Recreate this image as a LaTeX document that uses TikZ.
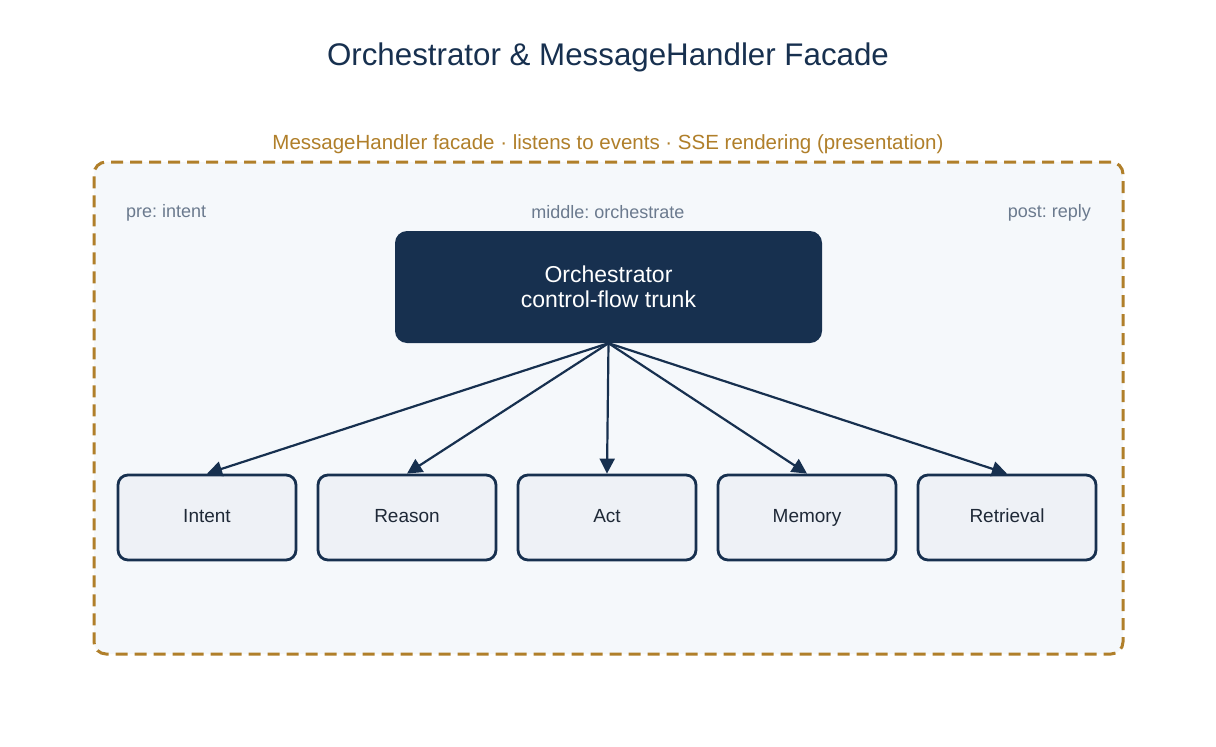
\documentclass[tikz,border=0pt]{standalone}
\usepackage{fontspec}
\setmainfont{Liberation Sans}
\usetikzlibrary{arrows.meta}
\definecolor{navy}{HTML}{17304F}
\definecolor{gold}{HTML}{B07F2A}
\definecolor{paneBg}{HTML}{F5F8FB}
\definecolor{boxBg}{HTML}{EEF1F6}
\definecolor{noteGray}{HTML}{6B7A8E}
\definecolor{inkDark}{HTML}{1F2937}
\frenchspacing
\begin{document}
\begin{tikzpicture}[x=1pt,y=-1pt,
    stage/.style={shape=rectangle,rounded corners=10pt,draw=navy,line width=2.8pt,fill=boxBg,
        minimum width=178pt,minimum height=85pt,inner sep=0pt,text=inkDark,
        text height=0.93em,text depth=0pt,font=\fontsize{19}{22}\selectfont},
    note/.style={text=noteGray,font=\fontsize{18}{21}\selectfont,inner sep=0pt},
    flow/.style={draw=navy,line width=2.2pt,-{Triangle[length=15pt,width=15pt]}}]
                \useasboundingbox[fill=white] (0,0) rectangle (1216,747);

                \node[text=navy,font=\fontsize{31.3}{36}\selectfont] (title) at (608,57.5) {Orchestrator \& MessageHandler Facade};

                \node[shape=rectangle,rounded corners=12pt,draw=gold,line width=3pt,dash pattern=on 12pt off 7pt,
                    fill=paneBg,minimum width=1029pt,minimum height=492pt] (facade) at (608.5,408) {};
                \node[text=gold,font=\fontsize{20.5}{24}\selectfont] (facadelbl) at (608,144) {MessageHandler facade · listens to events · SSE rendering (presentation)};

                \node[note,anchor=west] (pre) at (126,212.5) {pre: intent};
                \node[note] (mid) at (608,212.5) {middle: orchestrate};
                \node[note,anchor=east] (post) at (1091,212.5) {post: reply};

                \node[shape=rectangle,rounded corners=12pt,fill=navy,minimum width=427pt,minimum height=112pt,
                    text=white,align=center,font=\fontsize{23}{25}\selectfont] (orch) at (608.5,287) {Orchestrator\\control-flow trunk};

                \node[stage] (intent) at (207,517.5) {Intent};
                \node[stage] (reason) at (407,517.5) {Reason};
                \node[stage] (act) at (607,517.5) {Act};
                \node[stage] (memory) at (807,517.5) {Memory};
                \node[stage] (retrieval) at (1007,517.5) {Retrieval};

                \path (orch.south) edge[flow] (intent.north);
                \path (orch.south) edge[flow] (reason.north);
                \path (orch.south) edge[flow] (act.north);
                \path (orch.south) edge[flow] (memory.north);
                \path (orch.south) edge[flow] (retrieval.north);

            \end{tikzpicture}
\end{document}
